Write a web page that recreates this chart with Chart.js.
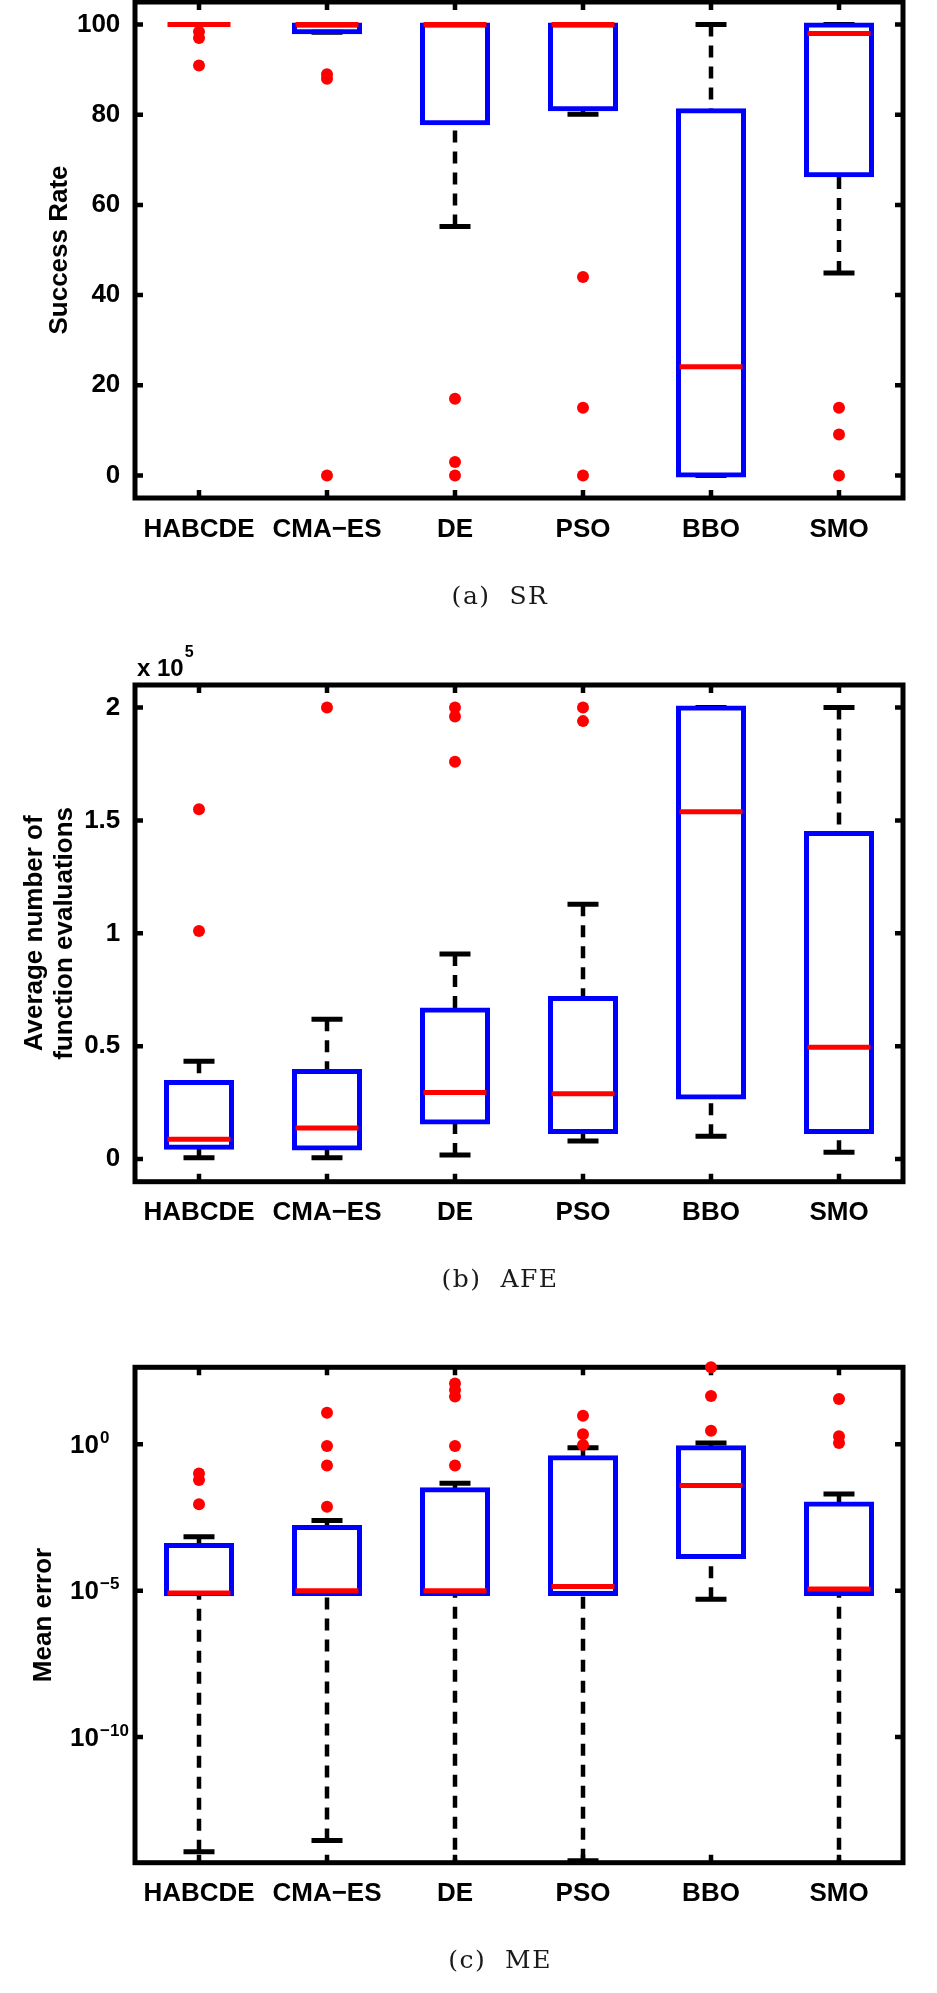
<!DOCTYPE html>
<html>
<head>
<meta charset="utf-8">
<title>SR / AFE / ME box plots</title>
<script src="https://cdn.jsdelivr.net/npm/chart.js@4.4.1/dist/chart.umd.min.js"></script>
<style>
  html, body { margin: 0; padding: 0; background: #fff; }
  #page { position: relative; width: 937px; height: 1993px; }
  canvas { position: absolute; left: 0; }
</style>
</head>
<body>
<div id="page">
  <canvas id="srChart" width="937" height="620" style="top:0px"></canvas>
  <canvas id="afeChart" width="937" height="680" style="top:620px"></canvas>
  <canvas id="meChart" width="937" height="693" style="top:1300px"></canvas>
</div>
<script>
var methods = ['HABCDE', 'CMA\u2212ES', 'DE', 'PSO', 'BBO', 'SMO'];

// (a) success rate
var srLow   = [100, 98.3, 55.2, 80.1, 0, 44.9];
var srQ1    = [100, 98.3, 78.1, 81.2, 0, 66.6];
var srMed   = [100, 100, 100, 100, 24.1, 98.0];
var srQ3    = [100, 100, 100, 100, 81.0, 100];
var srHigh  = [100, 100, 100, 100, 100, 100];
var srOut   = [[98.4, 97.0, 90.9], [89.0, 88.0, 0], [17.0, 3.0, 0], [44.0, 15.0, 0], [], [15.0, 9.1, 0]];
var srTicks = [0, 20, 40, 60, 80, 100];

// (b) average number of function evaluations
var afeLow   = [600, 600, 1800, 8000, 10100, 3000];
var afeQ1    = [5000, 4700, 16200, 12000, 27300, 12000];
var afeMed   = [8800, 13800, 29500, 28900, 153900, 49500];
var afeQ3    = [34200, 39000, 66300, 71400, 200000, 144400];
var afeHigh  = [43300, 61900, 90800, 112900, 200000, 200000];
var afeOut   = [[155000, 101000], [200000], [200000, 196000, 176000], [200000, 194000], [], []];
var afeTicks = [0, 50000, 100000, 150000, 200000];

// (c) mean error (DE and SMO lower whiskers run past the axis)
var meLow   = [1.2e-14, 2.9e-14, 1e-16, 5.9e-15, 5.1e-6, 1e-16];
var meQ1    = [7.6e-6, 7.7e-6, 7.7e-6, 7.7e-6, 1.4e-4, 7.7e-6];
var meMed   = [8.3e-6, 1.0e-5, 1.0e-5, 1.4e-5, 0.039, 1.15e-5];
var meQ3    = [3.6e-4, 1.5e-3, 0.029, 0.36, 0.79, 9.5e-3];
var meHigh  = [6.9e-4, 2.5e-3, 0.047, 0.76, 1.1, 0.02];
var meOut   = [[0.10, 0.06, 8.9e-3], [12, 0.87, 0.19, 7.4e-3], [120, 72, 43, 0.87, 0.19], [9.5, 2.2, 0.95], [427, 45, 2.9], [35, 1.9, 1.1]];
var meTicks = [1e-10, 1e-5, 1];

var sans = '"Liberation Sans", Arial, Helvetica, sans-serif';

// frame with inward ticks, caption, x10^5 and 10^n labels
var boxFrame = {
    id: 'boxFrame',
    beforeDatasetsDraw: function(chart) {
        var ctx = chart.ctx, a = chart.chartArea, x = chart.scales.x, y = chart.scales.y;
        ctx.save();
        ctx.strokeStyle = '#000';
        ctx.lineWidth = 5;
        ctx.strokeRect(a.left, a.top, a.right - a.left, a.bottom - a.top);
        ctx.lineWidth = 4.5;
        ctx.beginPath();
        x.ticks.forEach(function(t, i) {
            var px = x.getPixelForTick(i);
            ctx.moveTo(px, a.top); ctx.lineTo(px, a.top + 8);
            ctx.moveTo(px, a.bottom); ctx.lineTo(px, a.bottom - 8);
        });
        y.ticks.forEach(function(t) {
            var py = y.getPixelForValue(t.value);
            ctx.moveTo(a.left, py); ctx.lineTo(a.left + 8, py);
            ctx.moveTo(a.right, py); ctx.lineTo(a.right - 8, py);
        });
        ctx.stroke();
        ctx.restore();
    },
    afterDraw: function(chart, args, opts) {
        var ctx = chart.ctx, a = chart.chartArea, y = chart.scales.y;
        ctx.save();
        ctx.fillStyle = '#000';
        if (opts.power) {
            ctx.font = 'bold 24px ' + sans;
            ctx.textAlign = 'left';
            ctx.textBaseline = 'alphabetic';
            ctx.fillText('x 10', a.left + 2, a.top - 9);
            var w = ctx.measureText('x 10').width;
            ctx.font = 'bold 16px ' + sans;
            ctx.fillText(opts.power, a.left + 3 + w, a.top - 28);
        }
        if (opts.logLabels) {
            y.ticks.forEach(function(t) {
                var py = y.getPixelForValue(t.value);
                var e = Math.round(Math.log10(t.value));
                ctx.font = 'bold 26px ' + sans;
                ctx.textAlign = 'right';
                ctx.textBaseline = 'middle';
                ctx.fillText('10', a.left - 36, py + 1.5);
                ctx.font = 'bold 17px ' + sans;
                ctx.textAlign = 'left';
                ctx.textBaseline = 'alphabetic';
                ctx.fillText(String(e).replace('-', '\u2212'), a.left - 35, py - 1.5);
            });
        }
        ctx.fillStyle = '#1a1a1a';
        ctx.font = '25px "DejaVu Serif", serif';
        ctx.letterSpacing = '1.5px';
        ctx.textAlign = 'center';
        ctx.textBaseline = 'middle';
        ctx.fillText(opts.caption, 500, a.bottom + 99);
        ctx.restore();
    }
};

function buildDatasets(lo, q1, med, q3, hi, out) {
    var whiskers = [], caps = [], medians = [], boxes = [], outliers = [];
    methods.forEach(function(m, i) {
        whiskers.push({x: m, y: hi[i]}, {x: m, y: q3[i]}, {x: m, y: null});
        whiskers.push({x: m, y: lo[i]}, {x: m, y: q1[i]}, {x: m, y: null});
        caps.push({x: m, y: hi[i]}, {x: m, y: lo[i]});
        medians.push({x: m, y: med[i]});
        boxes.push([q1[i], q3[i]]);
        out[i].forEach(function(v) { outliers.push({x: m, y: v}); });
    });
    return [
        { type: 'line', data: outliers, showLine: false, pointStyle: 'circle', pointRadius: 6,
          pointBackgroundColor: '#ff0000', pointBorderWidth: 0, clip: false, order: 0 },
        { type: 'line', data: medians, showLine: false, pointStyle: 'line', pointRadius: 31.5,
          pointBorderColor: '#ff0000', pointBorderWidth: 5, order: 1 },
        { type: 'bar', data: boxes, backgroundColor: 'rgba(0,0,0,0)', borderColor: '#0000ff',
          borderWidth: 1, inflateAmount: 2, borderSkipped: false,
          barPercentage: 0.516, categoryPercentage: 1, order: 2 },
        { type: 'line', data: caps, showLine: false, pointStyle: 'line', pointRadius: 15.5,
          pointBorderColor: '#000', pointBorderWidth: 5, order: 3 },
        { type: 'line', data: whiskers, borderColor: '#000', borderWidth: 4.5, borderDash: [12, 9],
          pointRadius: 0, spanGaps: false, order: 4 }
    ];
}

function xAxis() {
    return {
        offset: true,
        afterFit: function(s) {
            s.height = 50;
            s.paddingLeft = 0;
            s.paddingRight = 0;
        },
        grid: { display: false },
        border: { display: false },
        ticks: { color: '#000', padding: 8, maxRotation: 0, autoSkip: false,
                 font: { family: sans, size: 26, weight: 'bold' } }
    };
}

function fitY(s) {
    s.width = 135;
    s.paddingTop = 0;
    s.paddingBottom = 0;
}

function yTitle(text, pad) {
    return { display: true, text: text, color: '#000', padding: { top: pad, bottom: 0 },
             font: { family: sans, size: 26, weight: 'bold', lineHeight: 1.17 } };
}

function boxChart(id, datasets, yScale, pad, plug) {
    return new Chart(document.getElementById(id), {
        type: 'bar',
        data: { labels: methods, datasets: datasets },
        options: {
            responsive: false,
            animation: false,
            events: [],
            layout: { padding: pad, autoPadding: false },
            plugins: { legend: { display: false }, tooltip: { enabled: false }, boxFrame: plug },
            scales: { x: xAxis(), y: yScale }
        },
        plugins: [boxFrame]
    });
}

boxChart('srChart', buildDatasets(srLow, srQ1, srMed, srQ3, srHigh, srOut), {
    type: 'linear', min: -5, max: 105,
    afterBuildTicks: function(s) { s.ticks = srTicks.map(function(v) { return {value: v}; }); },
    afterFit: fitY,
    grid: { display: false },
    border: { display: false },
    ticks: { color: '#000', padding: 6.7, font: { family: sans, size: 26, weight: 'bold' } },
    title: yTitle('Success Rate', 44.5)
}, { top: 2, right: 34, bottom: 72, left: 0 }, { caption: '(a)  SR' });

boxChart('afeChart', buildDatasets(afeLow, afeQ1, afeMed, afeQ3, afeHigh, afeOut), {
    type: 'linear', min: -10000, max: 210000,
    afterBuildTicks: function(s) { s.ticks = afeTicks.map(function(v) { return {value: v}; }); },
    afterFit: fitY,
    grid: { display: false },
    border: { display: false },
    ticks: { color: '#000', padding: 6.7, font: { family: sans, size: 26, weight: 'bold' },
             callback: function(v) { return v / 100000; } },
    title: yTitle(['Average number of', 'function evaluations'], 19.4)
}, { top: 65, right: 34, bottom: 68.3, left: 0 }, { caption: '(b)  AFE', power: '5' });

boxChart('meChart', buildDatasets(meLow, meQ1, meMed, meQ3, meHigh, meOut), {
    type: 'logarithmic', min: 5.1e-15, max: 427,
    afterBuildTicks: function(s) { s.ticks = meTicks.map(function(v) { return {value: v}; }); },
    afterFit: fitY,
    grid: { display: false },
    border: { display: false },
    ticks: { display: false },
    title: yTitle('Mean error', 28.3)
}, { top: 67.3, right: 34, bottom: 80.3, left: 0 }, { caption: '(c)  ME', logLabels: true });
</script>
</body>
</html>
